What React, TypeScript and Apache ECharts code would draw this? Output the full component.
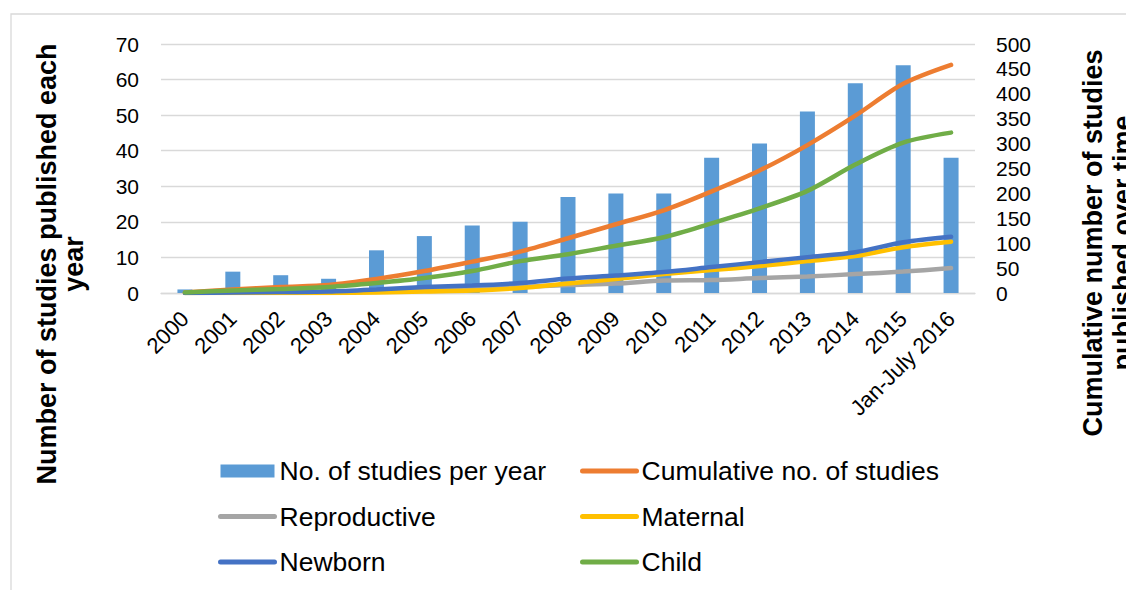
import React, { useEffect, useRef } from "react";
import * as echarts from "echarts";

const categories = [
  "2000", "2001", "2002", "2003", "2004", "2005", "2006", "2007", "2008",
  "2009", "2010", "2011", "2012", "2013", "2014", "2015", "Jan-July 2016",
];
const perYear = [1, 6, 5, 4, 12, 16, 19, 20, 27, 28, 28, 38, 42, 51, 59, 64, 38];
const cumulative = [1, 7, 12, 16, 28, 44, 63, 83, 110, 138, 166, 204, 246, 297, 356, 420, 458];
const reproductive = [0, 1, 1, 2, 3, 5, 8, 12, 16, 19, 25, 26, 30, 33, 38, 43, 50];
const maternal = [0, 0, 0, 0, 1, 3, 5, 10, 19, 28, 38, 46, 54, 64, 74, 92, 103];
const newborn = [0, 1, 2, 3, 7, 12, 15, 20, 29, 35, 42, 52, 62, 72, 82, 102, 113];
const child = [1, 5, 8, 12, 20, 30, 44, 64, 78, 95, 112, 140, 170, 205, 258, 302, 322];

const FONT = '"Liberation Sans", Arial, sans-serif';

export default function App() {
  const ref = useRef<HTMLDivElement>(null);
  useEffect(() => {
    document.body.style.margin = "0";
    const chart = echarts.init(ref.current!, null, { renderer: "svg" });
    const line = (name: string, data: number[], color: string) => ({
      name,
      type: "line",
      yAxisIndex: 1,
      data,
      smooth: 0.3,
      symbol: "none",
      lineStyle: { color, width: 4.5, cap: "round" },
      itemStyle: { color },
    });
    const lineItem = (name: string) => ({ name, itemStyle: { opacity: 0 } });
    const legendCommon = {
      top: 456,
      padding: 0,
      orient: "vertical",
      itemWidth: 54,
      itemHeight: 13,
      itemGap: 15.5,
      lineStyle: { width: 5, cap: "round" },
      textStyle: { fontSize: 26.5, color: "#000", lineHeight: 30, fontFamily: FONT },
    };
    chart.setOption({
      animation: false,
      textStyle: { fontFamily: FONT },
      grid: { left: 161, right: 151, top: 44, bottom: 297 },
      xAxis: {
        type: "category",
        data: categories,
        axisLine: { lineStyle: { color: "#d9d9d9", width: 1.3 } },
        axisTick: { show: false },
        axisLabel: {
          rotate: 45,
          interval: 0,
          margin: 22,
          color: "#000",
          fontSize: 22,
          fontFamily: FONT,
        },
      },
      yAxis: [
        {
          type: "value",
          min: 0,
          max: 70,
          interval: 10,
          axisLine: { show: false },
          axisTick: { show: false },
          splitLine: { lineStyle: { color: "#d9d9d9", width: 1.3 } },
          axisLabel: { color: "#000", fontSize: 21, margin: 22, fontFamily: FONT },
        },
        {
          type: "value",
          min: 0,
          max: 500,
          interval: 50,
          axisLine: { show: false },
          axisTick: { show: false },
          splitLine: { show: false },
          axisLabel: { color: "#000", fontSize: 21, margin: 21, fontFamily: FONT },
        },
      ],
      legend: [
        {
          ...legendCommon,
          left: 218,
          data: [
            { name: "No. of studies per year", icon: "rect" },
            lineItem("Reproductive"),
            lineItem("Newborn"),
          ],
        },
        {
          ...legendCommon,
          left: 580,
          data: [lineItem("Cumulative no. of studies"), lineItem("Maternal"), lineItem("Child")],
        },
      ],
      graphic: [
        {
          type: "rect",
          shape: { x: 11, y: 14, width: 1200, height: 700 },
          style: { fill: "none", stroke: "#d9d9d9", lineWidth: 1.3 },
          silent: true,
        },
        {
          type: "text",
          x: 60,
          y: 264,
          rotation: Math.PI / 2,
          style: {
            text: "Number of studies published each\nyear",
            font: `bold 27px ${FONT}`,
            fill: "#000",
            textAlign: "center",
            textVerticalAlign: "middle",
            lineHeight: 27,
          },
        },
        {
          type: "text",
          x: 1108,
          y: 243,
          rotation: Math.PI / 2,
          style: {
            text: "Cumulative number of studies\npublished over time",
            font: `bold 27px ${FONT}`,
            fill: "#000",
            textAlign: "center",
            textVerticalAlign: "middle",
            lineHeight: 30,
          },
        },
      ],
      series: [
        {
          name: "No. of studies per year",
          type: "bar",
          data: perYear,
          barWidth: 15,
          itemStyle: { color: "#5B9BD5" },
        },
        line("Cumulative no. of studies", cumulative, "#ED7D31"),
        line("Reproductive", reproductive, "#A5A5A5"),
        line("Maternal", maternal, "#FFC000"),
        line("Newborn", newborn, "#4472C4"),
        line("Child", child, "#70AD47"),
      ],
    });
    return () => chart.dispose();
  }, []);
  return <div ref={ref} style={{ width: 1126, height: 590 }} />;
}
